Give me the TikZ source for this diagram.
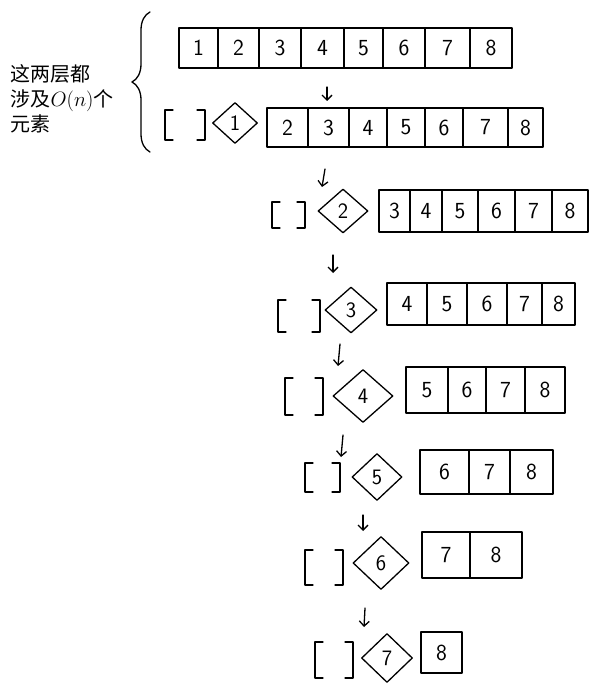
\documentclass[tikz,border=0pt]{standalone}
\usepackage{fontspec}
\newfontfamily\cjk{Noto Sans CJK SC}
\usetikzlibrary{shapes.geometric,decorations.pathreplacing,arrows.meta}
\newcommand\drawcells[4]{%
  \foreach \a/\b/\n in {#4}{%
    \draw (\a,#2) rectangle (\b,#3);
    \node[num] (#1-\n) at ({(\a+\b)/2},{(#2+#3)/2}) {\n};
  }}
\newcommand\drawbrk[4]{%
  \draw ({#1+8},#3) -- (#1,#3) -- (#1,#4) -- ({#1+8},#4);
  \draw ({#2-8},#3) -- (#2,#3) -- (#2,#4) -- ({#2-8},#4);}
\begin{document}
\begin{tikzpicture}[x=1pt,y=-1pt,line width=1.3pt,line join=round,line cap=round,
  num/.style={font=\sffamily\fontsize{23}{23}\selectfont,inner sep=0pt},
  dia/.style={draw,diamond,inner sep=0pt,font=\sffamily\fontsize{22}{22}\selectfont},
  arr/.style={-{Straight Barb[length=5pt,width=10pt]}}]
\useasboundingbox (0,0) rectangle (591,684);

% label and brace
\node[anchor=west,align=left,inner sep=0pt,font=\cjk\fontsize{20}{25}\selectfont] (lbl) at (10,99)
  {这两层都\\涉及$O(n)$个\\元素};
\coordinate (bb) at (150,152);
\coordinate (bt) at (150,12);
\draw[decorate,decoration={brace,amplitude=18pt}] (bb) -- (bt);

% row 1
\drawcells{r1}{28}{68}{179/218/1,218/259/2,259/301/3,301/344/4,344/383/5,383/425/6,425/470/7,470/512/8}

% row 2
\coordinate (a2s) at (327,87); \coordinate (a2e) at (327,101);
\draw[arr] (a2s) -- (a2e);
\drawbrk{165}{205}{110}{140}
\node[dia,minimum width=45pt,minimum height=41pt] (d1) at (235,123) {1};
\drawcells{r2}{108}{147}{267/308/2,308/349/3,349/387/4,387/425/5,425/463/6,463/508/7,508/543/8}

% row 3
\coordinate (a3s) at (325,169); \coordinate (a3e) at (322,187);
\draw[arr] (a3s) -- (a3e);
\drawbrk{272}{305}{202}{228}
\node[dia,minimum width=50pt,minimum height=44pt] (d2) at (343,211) {2};
\drawcells{r3}{190}{232}{379/410/3,410/442/4,442/478/5,478/515/6,515/552/7,552/588/8}

% row 4
\coordinate (a4s) at (333,255); \coordinate (a4e) at (333,273);
\draw[arr] (a4s) -- (a4e);
\drawbrk{278}{320}{300}{332}
\node[dia,minimum width=52pt,minimum height=46pt] (d3) at (351,310) {3};
\drawcells{r4}{283}{325}{387/427/4,427/467/5,467/507/6,507/542/7,542/575/8}

% row 5
\coordinate (a5s) at (340,344); \coordinate (a5e) at (338,366);
\draw[arr] (a5s) -- (a5e);
\drawbrk{285}{323}{378}{415}
\node[dia,minimum width=60pt,minimum height=53pt] (d4) at (363,396) {4};
\drawcells{r5}{367}{413}{406/448/5,448/486/6,486/525/7,525/565/8}

% row 6
\coordinate (a6s) at (343,435); \coordinate (a6e) at (341,457);
\draw[arr] (a6s) -- (a6e);
\drawbrk{305}{340}{463}{492}
\node[dia,minimum width=50pt,minimum height=47pt] (d5) at (377,477) {5};
\drawcells{r6}{450}{494}{420/469/6,469/510/7,510/553/8}

% row 7
\coordinate (a7s) at (363,515); \coordinate (a7e) at (363,531);
\draw[arr] (a7s) -- (a7e);
\drawbrk{305}{343}{550}{585}
\node[dia,minimum width=56pt,minimum height=53pt] (d6) at (381,563) {6};
\drawcells{r7}{532}{578}{422/470/7,470/522/8}

% row 8
\coordinate (a8s) at (365,608); \coordinate (a8e) at (364,627);
\draw[arr] (a8s) -- (a8e);
\drawbrk{315}{353}{642}{678}
\node[dia,minimum width=51pt,minimum height=49pt] (d7) at (387,658) {7};
\drawcells{r8}{632}{673}{421/462/8}
\end{tikzpicture}
\end{document}
